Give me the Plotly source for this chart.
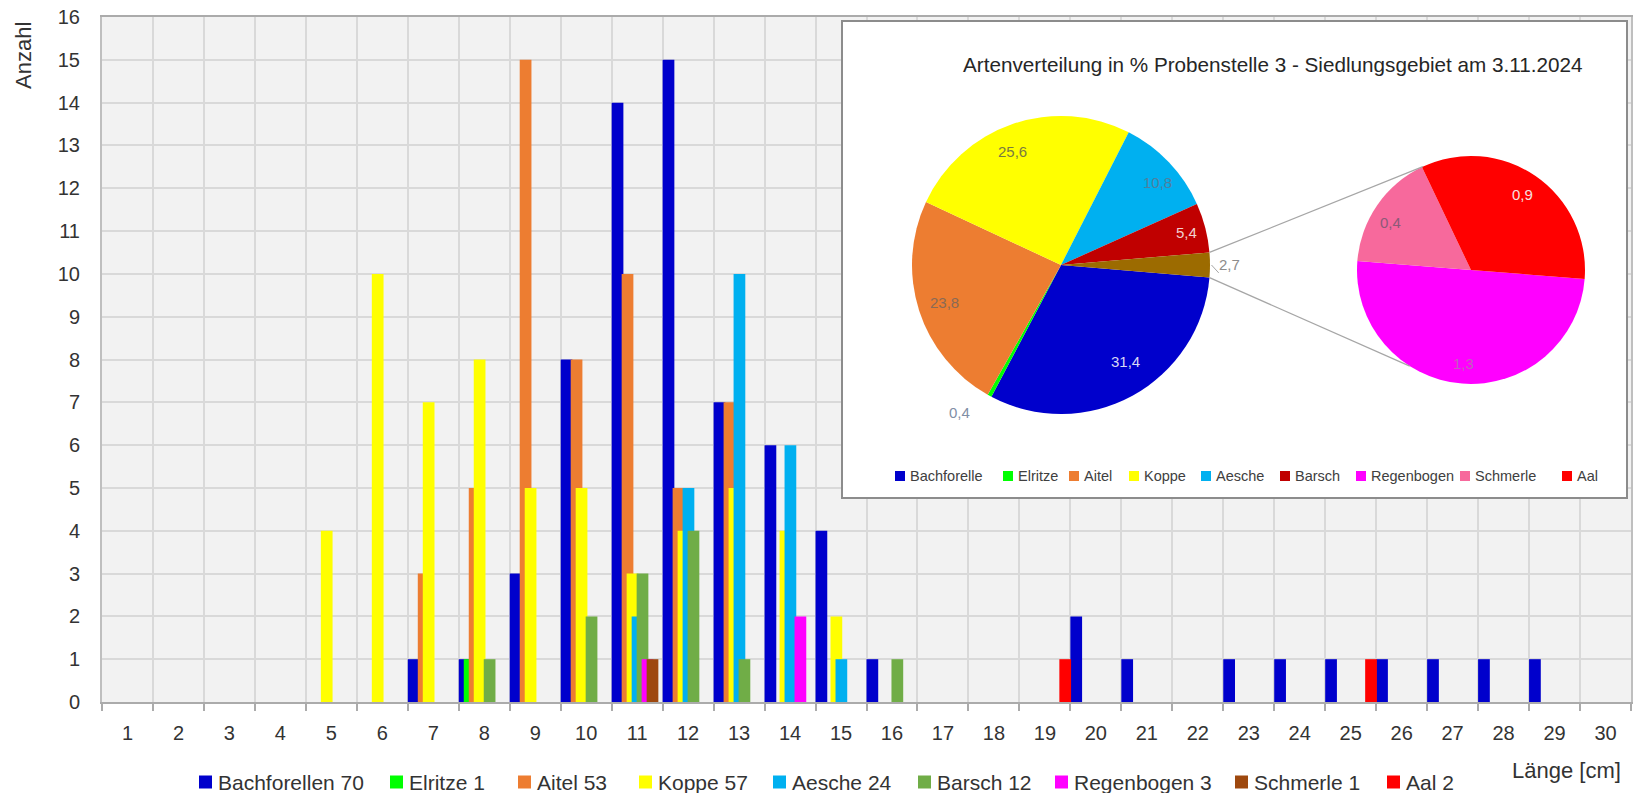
import math
import plotly.graph_objects as go

# ---------------- data ----------------
lengths = list(range(1, 31))
tick_labels = [str(v) for v in lengths]

bachforellen = [0, 0, 0, 0, 0, 0, 1, 1, 3, 8, 14, 15, 7, 6, 4, 1, 0, 0, 0, 2, 1, 0, 1, 1, 1, 1, 1, 1, 1, 0]
elritze      = [0, 0, 0, 0, 0, 0, 0, 1, 0, 0, 0, 0, 0, 0, 0, 0, 0, 0, 0, 0, 0, 0, 0, 0, 0, 0, 0, 0, 0, 0]
aitel        = [0, 0, 0, 0, 0, 0, 3, 5, 15, 8, 10, 5, 7, 0, 0, 0, 0, 0, 0, 0, 0, 0, 0, 0, 0, 0, 0, 0, 0, 0]
koppe        = [0, 0, 0, 0, 4, 10, 7, 8, 5, 5, 3, 4, 5, 4, 2, 0, 0, 0, 0, 0, 0, 0, 0, 0, 0, 0, 0, 0, 0, 0]
aesche       = [0, 0, 0, 0, 0, 0, 0, 0, 0, 0, 2, 5, 10, 6, 1, 0, 0, 0, 0, 0, 0, 0, 0, 0, 0, 0, 0, 0, 0, 0]
barsch       = [0, 0, 0, 0, 0, 0, 0, 1, 0, 2, 3, 4, 1, 0, 0, 1, 0, 0, 0, 0, 0, 0, 0, 0, 0, 0, 0, 0, 0, 0]
regenbogen   = [0, 0, 0, 0, 0, 0, 0, 0, 0, 0, 1, 0, 0, 2, 0, 0, 0, 0, 0, 0, 0, 0, 0, 0, 0, 0, 0, 0, 0, 0]
schmerle     = [0, 0, 0, 0, 0, 0, 0, 0, 0, 0, 1, 0, 0, 0, 0, 0, 0, 0, 0, 0, 0, 0, 0, 0, 0, 0, 0, 0, 0, 0]
aal          = [0, 0, 0, 0, 0, 0, 0, 0, 0, 0, 0, 0, 0, 0, 0, 0, 0, 0, 1, 0, 0, 0, 0, 0, 1, 0, 0, 0, 0, 0]

bar_names = ["Bachforellen", "Elritze", "Aitel", "Koppe", "Aesche", "Barsch", "Regenbogen", "Schmerle", "Aal"]
bar_values = [bachforellen, elritze, aitel, koppe, aesche, barsch, regenbogen, schmerle, aal]
bar_colors = ["#0000CC", "#00FF00", "#ED7D31", "#FFFF00", "#00B0F0", "#70AD47", "#FF00FF", "#9E480E", "#FF0000"]

pie_names = ["Bachforelle", "Elritze", "Aitel", "Koppe", "Aesche", "Barsch", "Regenbogen", "Schmerle", "Aal"]
pie_colors = ["#0000CC", "#00FF00", "#ED7D31", "#FFFF00", "#00B0F0", "#C00000", "#FF00FF", "#F7699C", "#FF0000"]
other_color = "#9C6B00"
n_main = 6  # first six species in the main pie, the rest in the secondary pie

pie_title = "Artenverteilung in % Probenstelle 3 - Siedlungsgebiet am 3.11.2024"

# ---------------- layout geometry ----------------
W, H = 1645, 793
ML, MR, MT, MB = 102, 14, 17, 91
PW, PH = W - ML - MR, H - MT - MB
FONT = "Liberation Sans, Arial, sans-serif"
TXT = "#333333"


def px_x(px):
    return (px - ML) / PW


def px_y(py):
    return 1 - (py - MT) / PH


def data_x(px):
    return 0.5 + (px - ML) / PW * len(lengths)


def data_y(py):
    return (MT + PH - py) / PH * 16


fig = go.Figure()

slot_step = 0.098
bar_w = 0.23
for i, (name, vals, col) in enumerate(zip(bar_names, bar_values, bar_colors)):
    fig.add_trace(go.Bar(
        x=lengths, y=vals, name=f"{name} {sum(vals)}",
        marker=dict(color=col, line=dict(width=0)),
        offset=-0.5 + i * slot_step, width=bar_w,
        hoverinfo="x+y+name", showlegend=False,
    ))

annotations = []
shapes = []

# bar legend (drawn by hand so the plot area keeps its size)
bar_leg_x = [199, 390, 518, 639, 773, 918, 1055, 1235, 1387]
bar_leg_y = 782
for name, vals, col, lx in zip(bar_names, bar_values, bar_colors, bar_leg_x):
    shapes.append(dict(type="rect", xref="paper", yref="paper",
                       x0=px_x(lx), x1=px_x(lx + 13), y0=px_y(bar_leg_y + 6.5), y1=px_y(bar_leg_y - 6.5),
                       fillcolor=col, line=dict(width=0)))
    annotations.append(dict(x=px_x(lx + 17), y=px_y(bar_leg_y), xref="paper", yref="paper",
                            xanchor="left", yanchor="middle", text=f"{name} {sum(vals)}", showarrow=False,
                            font=dict(family=FONT, size=21, color=TXT)))

# ---------------- pie inset ----------------
counts = [sum(v) for v in bar_values]
total = sum(counts)
main_vals = counts[:n_main] + [sum(counts[n_main:])]
main_cols = pie_colors[:n_main] + [other_color]
sec_vals = counts[n_main:]
sec_cols = pie_colors[n_main:]


def pct(v):
    return f"{v / total * 100:.1f}".replace(".", ",")


box = dict(x0=842, x1=1627, y0=21, y1=498)
main_c, main_r = (1061, 265), 149
sec_c, sec_r = (1471, 270), 114
main_rot = 90 + 360 * main_vals[-1] / total / 2
sec_rot = 94.5

shapes.append(dict(type="rect", xref="x", yref="y", layer="between",
                   x0=data_x(box["x0"]), x1=data_x(box["x1"]),
                   y0=data_y(box["y1"]), y1=data_y(box["y0"]),
                   fillcolor="white", line=dict(color="#8C8C8C", width=2)))


def pie_domain(c, r):
    return dict(x=[px_x(c[0] - r), px_x(c[0] + r)], y=[px_y(c[1] + r), px_y(c[1] - r)])


fig.add_trace(go.Pie(values=main_vals, labels=pie_names[:n_main] + ["Sonstige"],
                     domain=pie_domain(main_c, main_r), sort=False, direction="clockwise",
                     rotation=main_rot, marker=dict(colors=main_cols, line=dict(width=0)),
                     textinfo="none", showlegend=False, hoverinfo="label+percent"))
fig.add_trace(go.Pie(values=sec_vals, labels=pie_names[n_main:],
                     domain=pie_domain(sec_c, sec_r), sort=False, direction="clockwise",
                     rotation=sec_rot, marker=dict(colors=sec_cols, line=dict(width=0)),
                     textinfo="none", showlegend=False, hoverinfo="label+percent"))


def pie_labels(vals, c, r, rot, colors, fracs, shifts):
    ang = rot
    tot = sum(vals)
    mids = []
    for v, col, f, s in zip(vals, colors, fracs, shifts):
        span = 360 * v / tot
        mid = math.radians(ang + span / 2 + s)
        mids.append(mid)
        px = c[0] + f * r * math.sin(mid)
        py = c[1] - f * r * math.cos(mid)
        annotations.append(dict(x=px_x(px), y=px_y(py), xref="paper", yref="paper",
                                xanchor="center", yanchor="middle",
                                text=pct(v), showarrow=False,
                                font=dict(family=FONT, size=15, color=col)))
        ang += span
    return mids


mids = pie_labels(main_vals, main_c, main_r, main_rot,
                  ["#D8D8F4", "#7F8FA6", "#8A6A55", "#7A7A40", "#4F7F9F", "#F2D0D0", "#8C8C8C"],
                  [0.78, 1.2, 0.82, 0.83, 0.85, 0.87, 1.13],
                  [-5, 6, 0, -4, 3, 0, 0])
pie_labels(sec_vals, sec_c, sec_r, sec_rot,
           ["#C060C0", "#8C5A78", "#F5E0E0"],
           [0.82, 0.82, 0.8],
           [0, -4, 0])

# short leader line of the "other" label
m = mids[-1]
shapes.append(dict(type="line", xref="paper", yref="paper",
                   x0=px_x(main_c[0] + 1.01 * main_r * math.sin(m)),
                   y0=px_y(main_c[1] - 1.01 * main_r * math.cos(m)),
                   x1=px_x(main_c[0] + 1.06 * main_r * math.sin(m + 0.05)),
                   y1=px_y(main_c[1] - 1.06 * main_r * math.cos(m + 0.05)),
                   line=dict(color="#A6A6A6", width=1)))

# connector lines between the pies
a0 = math.radians(main_rot - 360 * main_vals[-1] / total)
a1 = math.radians(main_rot)
p_top = (main_c[0] + main_r * math.sin(a0), main_c[1] - main_r * math.cos(a0))
p_bot = (main_c[0] + main_r * math.sin(a1), main_c[1] - main_r * math.cos(a1))
b_top = math.radians(335)
b_bot = math.radians(212.5)
q_top = (sec_c[0] + sec_r * math.sin(b_top), sec_c[1] - sec_r * math.cos(b_top))
q_bot = (sec_c[0] + sec_r * math.sin(b_bot), sec_c[1] - sec_r * math.cos(b_bot))
for p, q in ((p_top, q_top), (p_bot, q_bot)):
    shapes.append(dict(type="line", xref="paper", yref="paper",
                       x0=px_x(p[0]), y0=px_y(p[1]), x1=px_x(q[0]), y1=px_y(q[1]),
                       line=dict(color="#A6A6A6", width=1.2)))

# pie title
annotations.append(dict(x=px_x(1272), y=px_y(64), xref="paper", yref="paper",
                        xanchor="center", yanchor="middle",
                        text=pie_title, showarrow=False,
                        font=dict(family=FONT, size=20.7, color="#262626")))

# pie legend
pie_leg_x = [895, 1003, 1069, 1129, 1201, 1280, 1356, 1460, 1562]
leg_y = 476
for name, col, lx in zip(pie_names, pie_colors, pie_leg_x):
    shapes.append(dict(type="rect", xref="paper", yref="paper",
                       x0=px_x(lx), x1=px_x(lx + 10), y0=px_y(leg_y + 5), y1=px_y(leg_y - 5),
                       fillcolor=col, line=dict(width=0)))
    annotations.append(dict(x=px_x(lx + 13), y=px_y(leg_y), xref="paper", yref="paper",
                            xanchor="left", yanchor="middle", text=name, showarrow=False,
                            font=dict(family=FONT, size=14.5, color="#404040")))

# axis titles
annotations.append(dict(x=px_x(23), y=px_y(56), xref="paper", yref="paper", text="Anzahl",
                        xanchor="center", yanchor="middle",
                        textangle=-90, showarrow=False,
                        font=dict(family=FONT, size=22, color=TXT)))
annotations.append(dict(x=px_x(1566), y=px_y(770), xref="paper", yref="paper", text="Länge [cm]",
                        xanchor="center", yanchor="middle",
                        showarrow=False, font=dict(family=FONT, size=22, color=TXT)))

fig.update_layout(
    width=W, height=H,
    margin=dict(l=ML, r=MR, t=MT, b=MB, pad=0, autoexpand=False),
    barmode="overlay",
    showlegend=False,
    paper_bgcolor="white",
    plot_bgcolor="#F2F2F2",
    font=dict(family=FONT, size=20, color=TXT),
    annotations=annotations,
    shapes=shapes,
    xaxis=dict(range=[0.5, 30.5], tickmode="array", tickvals=lengths, ticktext=tick_labels,
               showgrid=False, ticks="", zeroline=False, automargin=False,
               showline=True, linecolor="#ABABAB", linewidth=2, mirror=True,
               ticklabelstandoff=12, tickfont=dict(size=20, color=TXT),
               minor=dict(tick0=0.5, dtick=1, showgrid=True, gridcolor="#D9D9D9", gridwidth=2,
                          ticks="outside", ticklen=7, tickwidth=2, tickcolor="#ABABAB")),
    yaxis=dict(range=[0, 16], tickmode="linear", tick0=0, dtick=1, automargin=False,
               showgrid=True, gridcolor="#D9D9D9", gridwidth=2, zeroline=False,
               showline=True, linecolor="#BFBFBF", linewidth=2, mirror=True,
               ticks="", ticklabelstandoff=16, tickfont=dict(size=20, color=TXT)),
)

fig.write_html("out.html", config={"displayModeBar": False},
               post_script="document.body.style.margin='0';document.body.style.overflow='hidden';")
